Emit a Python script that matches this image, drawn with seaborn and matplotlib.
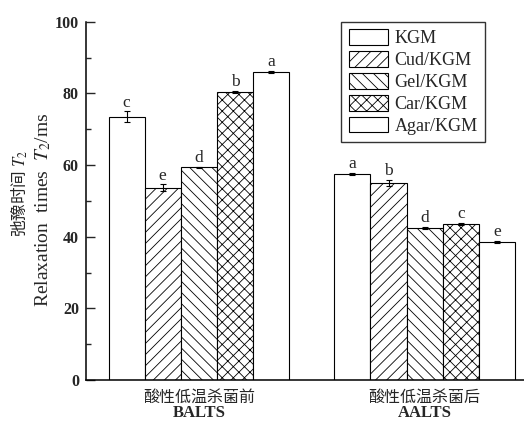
import matplotlib
matplotlib.use("Agg")
import matplotlib.pyplot as plt
import matplotlib.transforms as mtransforms
from matplotlib.ticker import MultipleLocator
import seaborn as sns
import pandas as pd

# 数据
groups = ["酸性低温杀菌前", "酸性低温杀菌后"]
groups_en = ["BALTS", "AALTS"]
samples = ["KGM", "Cud/KGM", "Gel/KGM", "Car/KGM", "Agar/KGM"]
t2_balts = [73.5, 53.7, 59.4, 80.5, 86.1]
t2_aalts = [57.5, 55.0, 42.4, 43.6, 38.5]
err_balts = [1.5, 0.9, 0.2, 0.3, 0.3]
err_aalts = [0.3, 0.8, 0.3, 0.3, 0.3]
sig_balts = ["c", "e", "d", "b", "a"]
sig_aalts = ["a", "b", "d", "c", "e"]
hatches = ["", "///", "\\\\\\", "xxx", ""]

df = pd.DataFrame({
    "group": [groups[0]] * 5 + [groups[1]] * 5,
    "sample": samples * 2,
    "T2": t2_balts + t2_aalts,
    "err": err_balts + err_aalts,
    "sig": sig_balts + sig_aalts,
})

sns.set_style("ticks")
plt.rcParams["font.family"] = ["Liberation Serif", "Noto Sans CJK SC"]
plt.rcParams["mathtext.fontset"] = "stix"
plt.rcParams["hatch.linewidth"] = 0.6
plt.rcParams["axes.unicode_minus"] = False

fig = plt.figure(figsize=(5.24, 4.22), dpi=100)
ax = fig.add_axes([0.164, 0.0995, 0.836, 0.8488])

sns.barplot(data=df, x="group", y="T2", hue="sample", order=groups, hue_order=samples,
            palette=["white"] * 5, edgecolor="black", linewidth=0.8, width=0.8,
            errorbar=None, legend=False, ax=ax)

bars = list(ax.containers)
for cont, h in zip(bars, hatches):
    for p in cont:
        p.set_hatch(h)

# 误差线和显著性字母
for i, cont in enumerate(bars):
    for j, p in enumerate(cont):
        row = df[(df["sample"] == samples[i]) & (df["group"] == groups[j])].iloc[0]
        xc = p.get_x() + p.get_width() / 2
        ax.errorbar(xc, row["T2"], yerr=row["err"], fmt="none", ecolor="black",
                    elinewidth=0.8, capsize=2.5, capthick=0.8)
        ax.annotate(row["sig"], (xc, row["T2"] + row["err"]), xytext=(0, 0.5),
                    textcoords="offset points", ha="center", va="bottom", fontsize=12.5)

leg = ax.legend(bars, samples, loc="upper right", bbox_to_anchor=(0.911, 1.0),
                borderaxespad=0, fontsize=13, frameon=True, fancybox=False,
                edgecolor="black", handlelength=2.2, handleheight=0.95,
                labelspacing=0.22, handletextpad=0.35, borderpad=0.4)
leg.get_frame().set_linewidth(1.0)

ax.set_ylim(0, 100)
ax.set_xlim(-0.5, 1.44)
ax.yaxis.set_major_locator(MultipleLocator(20))
ax.yaxis.set_minor_locator(MultipleLocator(10))
ax.tick_params(axis="y", which="major", direction="in", length=6.5, width=1,
               labelsize=11.5, pad=5)
ax.tick_params(axis="y", which="minor", direction="in", length=3.4, width=1)
ax.tick_params(axis="x", length=0, labelsize=11.5, pad=6)
for lab in ax.get_yticklabels():
    lab.set_fontweight("bold")
for lab in ax.get_xticklabels():
    lab.set_family("Noto Sans CJK SC")

sns.despine(ax=ax)
for s in ["left", "bottom"]:
    ax.spines[s].set_linewidth(1.1)
    ax.spines[s].set_color("black")

ax.set_xlabel("")
ax.set_ylabel("")

trans = mtransforms.blended_transform_factory(ax.transData, ax.transAxes)
for k, name in enumerate(groups_en):
    ax.text(k, -0.092, name, transform=trans, ha="center", va="center",
            fontsize=12, fontweight="bold", family="Liberation Serif")

ax.text(-0.151, 0.522, "弛豫时间 $T_2$", transform=ax.transAxes, rotation=90,
        ha="center", va="center", fontsize=12, family="Noto Sans CJK SC")
ax.text(-0.098, 0.475, "Relaxation  times  $T_2$/ms", transform=ax.transAxes, rotation=90,
        ha="center", va="center", fontsize=14, family="Liberation Serif")

fig.savefig("out.png", dpi=100)
